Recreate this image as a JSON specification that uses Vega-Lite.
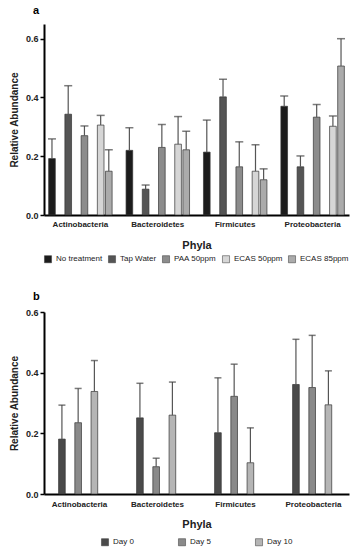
{
  "$schema": "https://vega.github.io/schema/vega-lite/v6.json",
  "padding": {"left": 9, "top": 5, "right": 5, "bottom": 2},
  "config": {"font": "Liberation Sans", "view": {"stroke": null}, "concat": {"spacing": 27}, "legend": {"layout": {"bottom": {"anchor": "middle"}}}},
  "datasets": {
    "a": [
      {"phylum": "Actinobacteria", "group": "No treatment", "mean": 0.192, "upper": 0.259},
      {"phylum": "Actinobacteria", "group": "Tap Water", "mean": 0.343, "upper": 0.44},
      {"phylum": "Actinobacteria", "group": "PAA 50ppm", "mean": 0.27, "upper": 0.303},
      {"phylum": "Actinobacteria", "group": "ECAS 50ppm", "mean": 0.306, "upper": 0.339},
      {"phylum": "Actinobacteria", "group": "ECAS 85ppm", "mean": 0.149, "upper": 0.222},
      {"phylum": "Bacteroidetes", "group": "No treatment", "mean": 0.22, "upper": 0.297},
      {"phylum": "Bacteroidetes", "group": "Tap Water", "mean": 0.088, "upper": 0.102},
      {"phylum": "Bacteroidetes", "group": "PAA 50ppm", "mean": 0.23, "upper": 0.308},
      {"phylum": "Bacteroidetes", "group": "ECAS 50ppm", "mean": 0.241, "upper": 0.335},
      {"phylum": "Bacteroidetes", "group": "ECAS 85ppm", "mean": 0.222, "upper": 0.285},
      {"phylum": "Firmicutes", "group": "No treatment", "mean": 0.214, "upper": 0.323},
      {"phylum": "Firmicutes", "group": "Tap Water", "mean": 0.402, "upper": 0.462},
      {"phylum": "Firmicutes", "group": "PAA 50ppm", "mean": 0.164, "upper": 0.249},
      {"phylum": "Firmicutes", "group": "ECAS 50ppm", "mean": 0.149, "upper": 0.239},
      {"phylum": "Firmicutes", "group": "ECAS 85ppm", "mean": 0.12, "upper": 0.157},
      {"phylum": "Proteobacteria", "group": "No treatment", "mean": 0.37, "upper": 0.405},
      {"phylum": "Proteobacteria", "group": "Tap Water", "mean": 0.164, "upper": 0.201},
      {"phylum": "Proteobacteria", "group": "PAA 50ppm", "mean": 0.333, "upper": 0.376},
      {"phylum": "Proteobacteria", "group": "ECAS 50ppm", "mean": 0.302, "upper": 0.337},
      {"phylum": "Proteobacteria", "group": "ECAS 85ppm", "mean": 0.507, "upper": 0.6}
    ],
    "b": [
      {"phylum": "Actinobacteria", "group": "Day 0", "mean": 0.181, "upper": 0.293},
      {"phylum": "Actinobacteria", "group": "Day 5", "mean": 0.235, "upper": 0.348},
      {"phylum": "Actinobacteria", "group": "Day 10", "mean": 0.338, "upper": 0.44},
      {"phylum": "Bacteroidetes", "group": "Day 0", "mean": 0.251, "upper": 0.365},
      {"phylum": "Bacteroidetes", "group": "Day 5", "mean": 0.09, "upper": 0.118},
      {"phylum": "Bacteroidetes", "group": "Day 10", "mean": 0.26, "upper": 0.369},
      {"phylum": "Firmicutes", "group": "Day 0", "mean": 0.202, "upper": 0.383},
      {"phylum": "Firmicutes", "group": "Day 5", "mean": 0.322, "upper": 0.428},
      {"phylum": "Firmicutes", "group": "Day 10", "mean": 0.103, "upper": 0.218},
      {"phylum": "Proteobacteria", "group": "Day 0", "mean": 0.361, "upper": 0.51},
      {"phylum": "Proteobacteria", "group": "Day 5", "mean": 0.351, "upper": 0.523},
      {"phylum": "Proteobacteria", "group": "Day 10", "mean": 0.294, "upper": 0.406}
    ]
  },
  "vconcat": [
    {
      "title": {"text": "a", "anchor": "start", "frame": "group", "dx": -11, "fontSize": 11, "fontWeight": "bold", "offset": 8},
      "width": 305,
      "height": 191,
      "data": {"name": "a"},
      "encoding": {
        "x": {"field": "phylum", "type": "nominal", "sort": ["Actinobacteria", "Bacteroidetes", "Firmicutes", "Proteobacteria"],
          "scale": {"paddingInner": 0.18, "paddingOuter": 0.06},
          "title": "Phyla",
          "axis": {"labelAngle": 0, "ticks": false, "domainWidth": 2, "domainColor": "black", "labelFontWeight": "bold", "labelFontSize": 8, "labelColor": "#222", "labelPadding": 5, "titleFontSize": 11, "titleFontWeight": "bold", "titlePadding": 11, "titleColor": "#222"}},
        "xOffset": {"field": "group", "sort": ["No treatment", "Tap Water", "PAA 50ppm", "ECAS 50ppm", "ECAS 85ppm"], "scale": {"paddingInner": 0.18, "paddingOuter": 0}}
      },
      "layer": [
        {
          "mark": {"type": "bar", "stroke": "#333", "strokeWidth": 0.7},
          "encoding": {
            "y": {"field": "mean", "type": "quantitative", "scale": {"domain": [0, 0.65], "nice": false},
              "title": "Relative Abundance",
              "axis": {"values": [0, 0.1, 0.2, 0.3, 0.4, 0.5, 0.6], "format": ".1f", "grid": false, "domainWidth": 2, "domainColor": "black", "tickColor": "black", "tickWidth": 1.5, "tickSize": 4, "labelFontWeight": "bold", "labelFontSize": 9, "labelColor": "#222", "titleFontSize": 10, "titleFontWeight": "bold", "titleColor": "#222", "titlePadding": 6}},
            "fill": {"field": "group", "type": "nominal",
              "scale": {"domain": ["No treatment", "Tap Water", "PAA 50ppm", "ECAS 50ppm", "ECAS 85ppm"], "range": ["#1c1c1c", "#555555", "#8c8c8c", "#d6d6d6", "#ababab"]},
              "legend": {"orient": "bottom", "direction": "horizontal", "title": null, "symbolType": "square", "symbolSize": 50, "symbolStrokeColor": "#333", "symbolStrokeWidth": 0.5, "labelFontSize": 8, "labelColor": "#222", "columnPadding": 4, "offset": 5}}
          }
        },
        {
          "mark": {"type": "rule", "color": "#555", "strokeWidth": 1.2},
          "encoding": {"y": {"field": "mean", "type": "quantitative"}, "y2": {"field": "upper"}}
        },
        {
          "mark": {"type": "tick", "color": "#444", "thickness": 1.5, "size": 8},
          "encoding": {"y": {"field": "upper", "type": "quantitative"}}
        }
      ]
    },
    {
      "title": {"text": "b", "anchor": "start", "frame": "group", "dx": -11, "fontSize": 11, "fontWeight": "bold", "offset": 6},
      "width": 305,
      "height": 182,
      "data": {"name": "b"},
      "encoding": {
        "x": {"field": "phylum", "type": "nominal", "sort": ["Actinobacteria", "Bacteroidetes", "Firmicutes", "Proteobacteria"],
          "scale": {"paddingInner": 0.256, "paddingOuter": 0.083},
          "title": "Phyla",
          "axis": {"labelAngle": 0, "ticks": false, "domainWidth": 2, "domainColor": "black", "labelFontWeight": "bold", "labelFontSize": 8, "labelColor": "#222", "labelPadding": 6, "titleFontSize": 11, "titleFontWeight": "bold", "titlePadding": 10, "titleColor": "#222"}},
        "xOffset": {"field": "group", "sort": ["Day 0", "Day 5", "Day 10"], "scale": {"paddingInner": 0.17, "paddingOuter": 0}}
      },
      "layer": [
        {
          "mark": {"type": "bar", "stroke": "#333", "strokeWidth": 0.7},
          "encoding": {
            "y": {"field": "mean", "type": "quantitative", "scale": {"domain": [0, 0.6], "nice": false},
              "title": "Relative Abundance",
              "axis": {"values": [0, 0.1, 0.2, 0.3, 0.4, 0.5, 0.6], "format": ".1f", "grid": false, "domainWidth": 2, "domainColor": "black", "tickColor": "black", "tickWidth": 1.5, "tickSize": 4, "labelFontWeight": "bold", "labelFontSize": 9, "labelColor": "#222", "titleFontSize": 10, "titleFontWeight": "bold", "titleColor": "#222", "titlePadding": 6}},
            "fill": {"field": "group", "type": "nominal",
              "scale": {"domain": ["Day 0", "Day 5", "Day 10"], "range": ["#4a4a4a", "#8a8a8a", "#b5b5b5"]},
              "legend": {"orient": "bottom", "direction": "horizontal", "title": null, "symbolType": "square", "symbolSize": 50, "symbolStrokeColor": "#333", "symbolStrokeWidth": 0.5, "labelFontSize": 8, "labelColor": "#222", "columnPadding": 43, "offset": 9}}
          }
        },
        {
          "mark": {"type": "rule", "color": "#555", "strokeWidth": 1.2},
          "encoding": {"y": {"field": "mean", "type": "quantitative"}, "y2": {"field": "upper"}}
        },
        {
          "mark": {"type": "tick", "color": "#444", "thickness": 1.5, "size": 7},
          "encoding": {"y": {"field": "upper", "type": "quantitative"}}
        }
      ]
    }
  ],
  "resolve": {"scale": {"fill": "independent"}, "legend": {"fill": "independent"}}
}
